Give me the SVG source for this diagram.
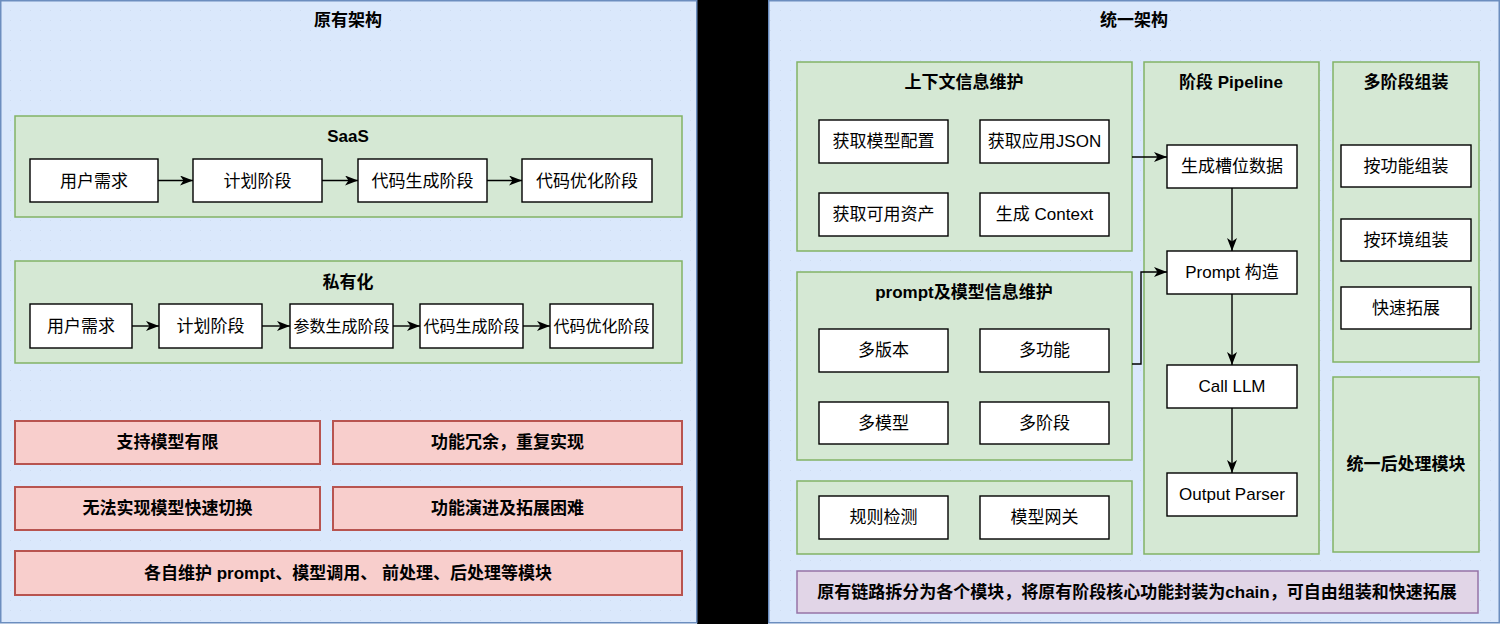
<svg xmlns="http://www.w3.org/2000/svg" width="1500" height="624" viewBox="0 0 1500 624">
<defs>
<pattern id="grid" width="10" height="10" patternUnits="userSpaceOnUse">
<rect x="0" y="0" width="1" height="1" fill="#c9d6ea"/>
</pattern>
<marker id="arr" markerUnits="userSpaceOnUse" markerWidth="14" markerHeight="12" refX="13" refY="5" orient="auto">
<path d="M0,0 L13,5 L0,10 L3.5,5 Z" fill="#000"/>
</marker>
<style>
.panel{fill:#dae8fc;stroke:#6c8ebf;stroke-width:1.5}
.grp{fill:#d5e8d4;stroke:#82b366;stroke-width:1.5}
.red{fill:#f8cecc;stroke:#b85450;stroke-width:2}
.pur{fill:#e1d5e7;stroke:#9673a6;stroke-width:1.5}
.box{fill:#fff;stroke:#000;stroke-width:1.4}
text{font-family:"Liberation Sans","Noto Sans CJK SC",sans-serif;font-size:17px;fill:#000;text-anchor:middle;dominant-baseline:central}
.b{font-weight:bold}
.s{font-size:16px}
.con{fill:none;stroke:#000;stroke-width:1.4;marker-end:url(#arr)}
</style>
</defs>
<rect x="697" y="0" width="71" height="624" fill="#000"/>
<g id="left-panel">
<rect class="panel" x="0.75" y="0.75" width="696" height="622"/>
<rect x="2" y="2" width="694" height="620" fill="url(#grid)" opacity="0.6"/>
<text class="b" x="348" y="20">原有架构</text>
</g>
<g id="right-panel">
<rect class="panel" x="768.75" y="0.75" width="730.5" height="622"/>
<rect x="770" y="2" width="728" height="620" fill="url(#grid)" opacity="0.6"/>
<text class="b" x="1134" y="20">统一架构</text>
</g>
<g id="saas">
<rect class="grp" x="15" y="116" width="667" height="101"/>
<text class="b" x="348" y="136">SaaS</text>
</g>
<g id="saas-req"><rect class="box" x="30" y="159" width="128" height="43"/><text x="94" y="181">用户需求</text></g>
<g id="saas-plan"><rect class="box" x="193" y="159" width="129" height="43"/><text x="257.5" y="181">计划阶段</text></g>
<g id="saas-gen"><rect class="box" x="358" y="159" width="129" height="43"/><text x="422.5" y="181">代码生成阶段</text></g>
<g id="saas-opt"><rect class="box" x="522" y="159" width="130" height="43"/><text x="587" y="181">代码优化阶段</text></g>
<g id="private">
<rect class="grp" x="15" y="261" width="667" height="102"/>
<text class="b" x="348" y="282">私有化</text>
</g>
<g id="pri-req"><rect class="box" x="30" y="304" width="102" height="44"/><text x="81" y="326">用户需求</text></g>
<g id="pri-plan"><rect class="box" x="159" y="304" width="103" height="44"/><text x="210.5" y="326">计划阶段</text></g>
<g id="pri-param"><rect class="box" x="290" y="304" width="103" height="44"/><text class="s" x="341.5" y="326">参数生成阶段</text></g>
<g id="pri-gen"><rect class="box" x="420" y="304" width="103" height="44"/><text class="s" x="471.5" y="326">代码生成阶段</text></g>
<g id="pri-opt"><rect class="box" x="550" y="304" width="103" height="44"/><text class="s" x="601.5" y="326">代码优化阶段</text></g>
<g id="issue1"><rect class="red" x="15" y="421" width="305" height="43"/><text class="b" x="167.5" y="442.5">支持模型有限</text></g>
<g id="issue2"><rect class="red" x="333" y="421" width="349" height="43"/><text class="b" x="507.5" y="442.5">功能冗余，重复实现</text></g>
<g id="issue3"><rect class="red" x="15" y="487" width="305" height="43"/><text class="b" x="167.5" y="508.5">无法实现模型快速切换</text></g>
<g id="issue4"><rect class="red" x="333" y="487" width="349" height="43"/><text class="b" x="507.5" y="508.5">功能演进及拓展困难</text></g>
<g id="issue5"><rect class="red" x="15" y="551" width="667" height="44"/><text class="b" x="348" y="573">各自维护 prompt、模型调用、 前处理、后处理等模块</text></g>
<g id="ctx">
<rect class="grp" x="797" y="62" width="335" height="189"/>
<text class="b" x="964" y="82">上下文信息维护</text>
</g>
<g id="ctx-model"><rect class="box" x="819" y="120" width="129" height="43"/><text x="883.5" y="141.5">获取模型配置</text></g>
<g id="ctx-json"><rect class="box" x="980" y="120" width="129" height="43"/><text x="1044.5" y="141.5">获取应用JSON</text></g>
<g id="ctx-asset"><rect class="box" x="819" y="193" width="129" height="43"/><text x="883.5" y="214.5">获取可用资产</text></g>
<g id="ctx-gen"><rect class="box" x="980" y="193" width="129" height="43"/><text x="1044.5" y="214.5">生成 Context</text></g>
<g id="prm">
<rect class="grp" x="797" y="272" width="335" height="188"/>
<text class="b" x="964" y="292">prompt及模型信息维护</text>
</g>
<g id="prm-ver"><rect class="box" x="819" y="329" width="129" height="43"/><text x="883.5" y="350.5">多版本</text></g>
<g id="prm-func"><rect class="box" x="980" y="329" width="129" height="43"/><text x="1044.5" y="350.5">多功能</text></g>
<g id="prm-model"><rect class="box" x="819" y="402" width="129" height="42"/><text x="883.5" y="423">多模型</text></g>
<g id="prm-stage"><rect class="box" x="980" y="402" width="129" height="42"/><text x="1044.5" y="423">多阶段</text></g>
<g id="misc"><rect class="grp" x="797" y="481" width="335" height="73"/></g>
<g id="rule"><rect class="box" x="819" y="496" width="129" height="43"/><text x="883.5" y="517.5">规则检测</text></g>
<g id="gateway"><rect class="box" x="980" y="496" width="129" height="43"/><text x="1044.5" y="517.5">模型网关</text></g>
<g id="pipeline">
<rect class="grp" x="1144" y="62" width="175" height="492"/>
<text class="b" x="1231" y="82">阶段 Pipeline</text>
</g>
<g id="pl-slot"><rect class="box" x="1167" y="145" width="130" height="43"/><text x="1232" y="166.5">生成槽位数据</text></g>
<g id="pl-prompt"><rect class="box" x="1167" y="251" width="130" height="43"/><text x="1232" y="272.5">Prompt 构造</text></g>
<g id="pl-llm"><rect class="box" x="1167" y="365" width="130" height="43"/><text x="1232" y="386.5">Call LLM</text></g>
<g id="pl-parser"><rect class="box" x="1167" y="473" width="130" height="43"/><text x="1232" y="494.5">Output Parser</text></g>
<g id="assemble">
<rect class="grp" x="1333" y="62" width="146" height="300"/>
<text class="b" x="1406" y="82">多阶段组装</text>
</g>
<g id="as-func"><rect class="box" x="1341" y="145" width="130" height="42"/><text x="1406" y="166">按功能组装</text></g>
<g id="as-env"><rect class="box" x="1341" y="219" width="130" height="42"/><text x="1406" y="240">按环境组装</text></g>
<g id="as-ext"><rect class="box" x="1341" y="287" width="130" height="42"/><text x="1406" y="308">快速拓展</text></g>
<g id="post"><rect class="grp" x="1333" y="377" width="146" height="175"/><text class="b" x="1406" y="464">统一后处理模块</text></g>
<g id="summary"><rect class="pur" x="797" y="571" width="681" height="42"/><text class="b" x="1137" y="592">原有链路拆分为各个模块，将原有阶段核心功能封装为chain，可自由组装和快速拓展</text></g>
<g id="connectors">
<path class="con" d="M158,180.5 H193"/>
<path class="con" d="M322,180.5 H358"/>
<path class="con" d="M487,180.5 H522"/>
<path class="con" d="M132,326 H159"/>
<path class="con" d="M262,326 H290"/>
<path class="con" d="M393,326 H420"/>
<path class="con" d="M523,326 H550"/>
<path class="con" d="M1132,157 H1167"/>
<path class="con" d="M1132,364 H1141 V272 H1167"/>
<path class="con" d="M1232,188 V251"/>
<path class="con" d="M1232,294 V365"/>
<path class="con" d="M1232,408 V473"/>
</g>
</svg>
